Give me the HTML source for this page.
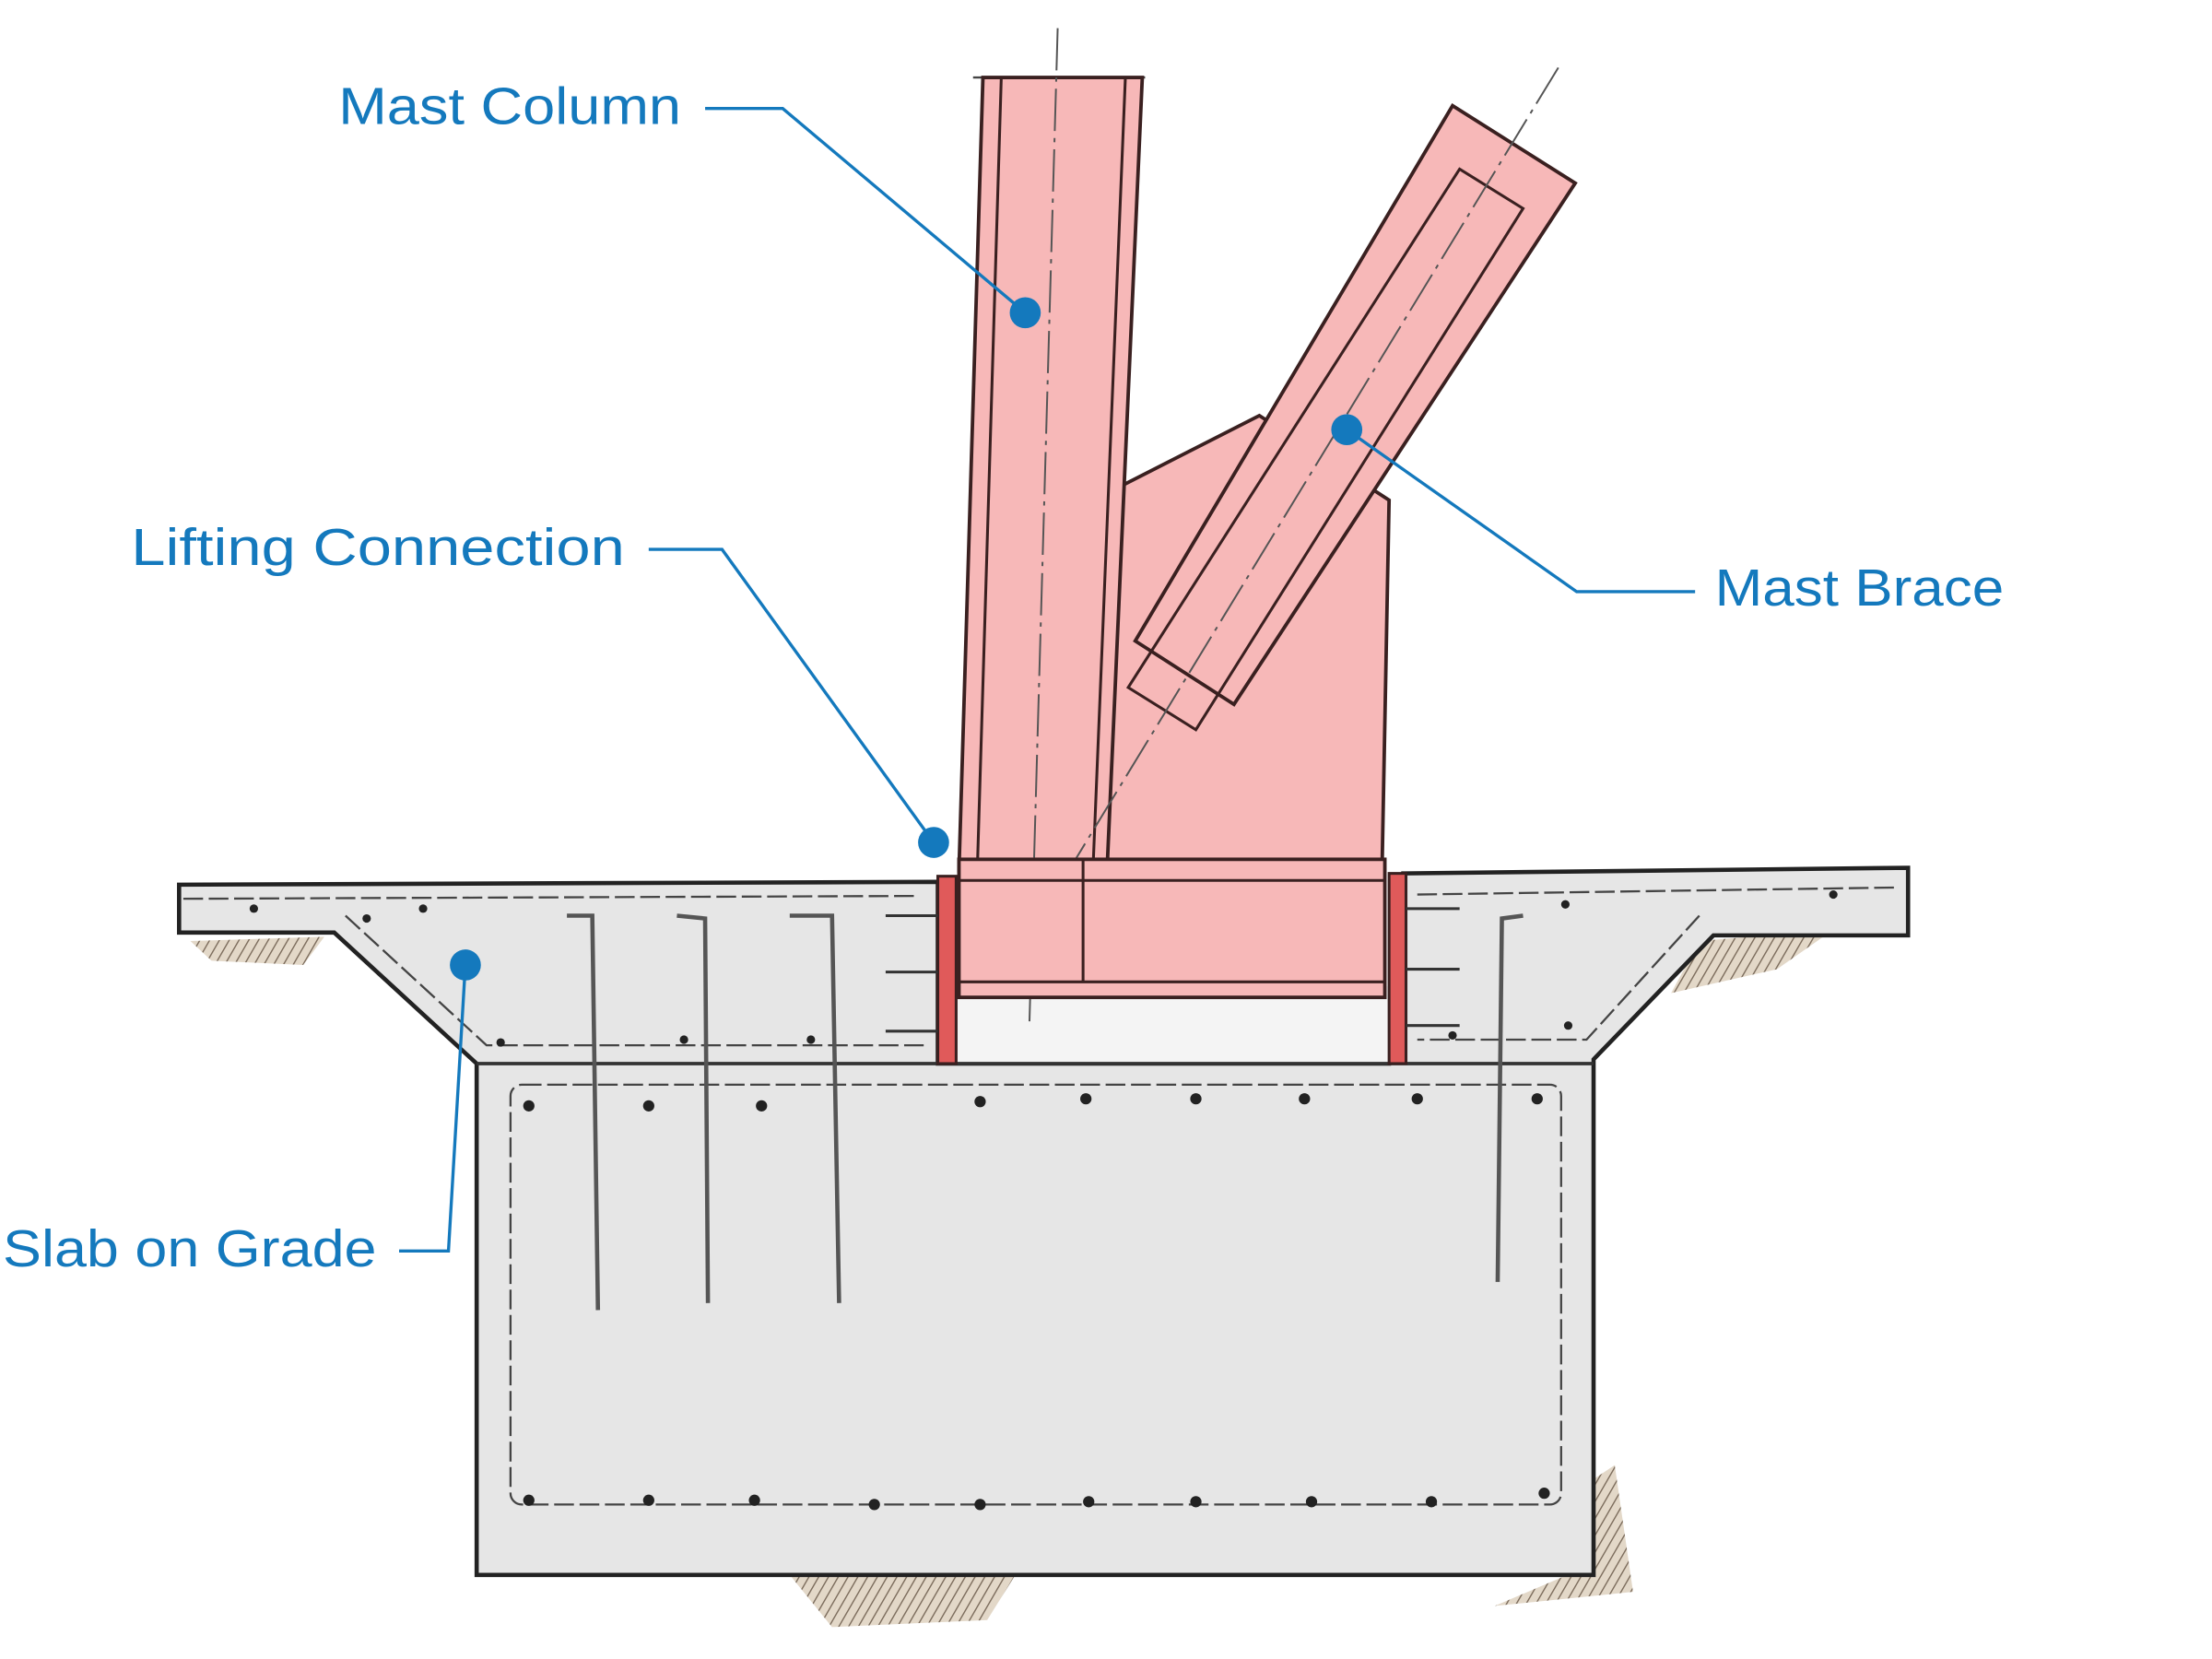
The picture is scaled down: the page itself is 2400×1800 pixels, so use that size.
<!DOCTYPE html>
<html><head><meta charset="utf-8"><style>
html,body{margin:0;padding:0;background:#fff;}
svg{display:block;}
text{font-family:"Liberation Sans",sans-serif;fill:#1479bd;font-size:37px;}
</style></head><body>
<svg width="2400" height="1800" viewBox="0 0 1545 1160" preserveAspectRatio="none" xmlns="http://www.w3.org/2000/svg">
<defs>
<pattern id="h" width="6" height="6" patternUnits="userSpaceOnUse" patternTransform="rotate(30)">
<rect width="6" height="6" fill="#e3d8c8"/><line x1="0" y1="0" x2="0" y2="6" stroke="#7a6a5a" stroke-width="1.8"/>
</pattern>
</defs>
<g transform="scale(0.985)">
<!-- ground hatch -->
<path d="M135,668 L230,665 L215,685 L150,682 Z" fill="url(#h)"/>
<path d="M1205,668 L1300,660 L1260,688 L1185,705 Z" fill="url(#h)"/>
<path d="M1130,1050 L1145,1040 L1158,1130 L1060,1140 L1130,1110 Z" fill="url(#h)"/>
<path d="M560,1118 L720,1118 L700,1150 L590,1155 Z" fill="url(#h)"/>
<!-- slab & beam -->
<path d="M127,628 L665,626 L665,755 L985,755 L995,620 L1353,616 L1353,664 L1215,664 L1130,752 L1130,1118 L338,1118 L338,755 L237,662 L127,662 Z" fill="#e6e6e6" stroke="#222" stroke-width="3"/>
<rect x="678" y="700" width="307" height="55" fill="#f4f4f4"/>
<line x1="338" y1="755" x2="1130" y2="755" stroke="#333" stroke-width="2.5"/>
<!-- rebar -->
<g fill="none" stroke="#444" stroke-width="1.5" stroke-dasharray="14 4">
<rect x="362" y="770" width="745" height="298" rx="8"/>
<path d="M130,638 L650,636 M245,650 L345,742 L655,742"/>
<path d="M1005,635 L1345,630 M1205,650 L1125,738 L1005,738"/>
</g>
<g fill="none" stroke="#555" stroke-width="3">
<path d="M402,650 L420,650 L424,930"/><path d="M480,650 L500,652 L502,925"/>
<path d="M560,650 L590,650 L595,925"/><path d="M1080,650 L1065,652 L1062,910"/>
</g>
<g fill="#222">
<circle cx="375" cy="785" r="4"/><circle cx="460" cy="785" r="4"/><circle cx="540" cy="785" r="4"/><circle cx="695" cy="782" r="4"/><circle cx="770" cy="780" r="4"/><circle cx="848" cy="780" r="4"/><circle cx="925" cy="780" r="4"/><circle cx="1005" cy="780" r="4"/><circle cx="1090" cy="780" r="4"/>
<circle cx="375" cy="1065" r="4"/><circle cx="460" cy="1065" r="4"/><circle cx="535" cy="1065" r="4"/><circle cx="620" cy="1068" r="4"/><circle cx="695" cy="1068" r="4"/><circle cx="772" cy="1066" r="4"/><circle cx="848" cy="1066" r="4"/><circle cx="930" cy="1066" r="4"/><circle cx="1015" cy="1066" r="4"/><circle cx="1095" cy="1060" r="4"/>
<circle cx="180" cy="645" r="3"/><circle cx="260" cy="652" r="3"/><circle cx="300" cy="645" r="3"/><circle cx="355" cy="740" r="3"/><circle cx="485" cy="738" r="3"/><circle cx="575" cy="738" r="3"/><circle cx="1110" cy="642" r="3"/><circle cx="1300" cy="635" r="3"/><circle cx="1030" cy="735" r="3"/><circle cx="1112" cy="728" r="3"/>
</g>
<!-- gusset -->
<path d="M795,345 L893,295 L985,355 L980,618 L780,618 Z" fill="#f7b8b8" stroke="#3a2020" stroke-width="2.5"/>
<!-- column -->
<line x1="690" y1="55" x2="812" y2="55" stroke="#444" stroke-width="1.5"/>
<path d="M697,55 L810,55 L785,618 L680,618 Z" fill="#f7b8b8" stroke="#3a2020" stroke-width="2.5"/>
<path d="M710,55 L693,618 M798,55 L775,618" stroke="#3a2020" stroke-width="2" fill="none"/>
<path d="M750,20 L730,725" stroke="#555" stroke-width="1.3" stroke-dasharray="30 5 3 5" fill="none"/>
<!-- brace -->
<path d="M1030,75 L1117,130 L875,500 L805,455 Z" fill="#f7b8b8" stroke="#3a2020" stroke-width="2.5"/>
<path d="M1035,120 L1080,148 L848,518 L800,488 Z" fill="none" stroke="#3a2020" stroke-width="2"/>
<path d="M1105,48 L720,680" stroke="#555" stroke-width="1.3" stroke-dasharray="30 5 3 5" fill="none"/>
<!-- base plate -->
<rect x="680" y="610" width="302" height="98" fill="#f7b8b8" stroke="#3a2020" stroke-width="2.5"/>
<line x1="680" y1="625" x2="982" y2="625" stroke="#3a2020" stroke-width="2"/>
<line x1="680" y1="697" x2="982" y2="697" stroke="#3a2020" stroke-width="2"/>
<line x1="768" y1="610" x2="768" y2="697" stroke="#3a2020" stroke-width="2"/>
<!-- embed plates -->
<rect x="665" y="622" width="13" height="133" fill="#e05a5a" stroke="#3a2020" stroke-width="2"/>
<rect x="985" y="620" width="12" height="135" fill="#e05a5a" stroke="#3a2020" stroke-width="2"/>
<g stroke="#333" stroke-width="2"><path d="M628,650 L665,650 M628,690 L665,690 M628,732 L665,732 M997,645 L1035,645 M997,688 L1035,688 M997,728 L1035,728"/></g>
<!-- leaders -->
<g fill="none" stroke="#1479bd" stroke-width="2.2">
<path d="M500,77 L555,77 L727,222"/>
<path d="M460,390 L512,390 L662,598"/>
<path d="M955,305 L1118,420 L1202,420"/>
<path d="M283,888 L318,888 L330,685"/>
</g>
<g fill="#1479bd">
<circle cx="727" cy="222" r="11"/><circle cx="662" cy="598" r="11"/><circle cx="955" cy="305" r="11"/><circle cx="330" cy="685" r="11"/>
</g>
<text x="240" y="88" textLength="243" lengthAdjust="spacingAndGlyphs">Mast Column</text>
<text x="93" y="401" textLength="350" lengthAdjust="spacingAndGlyphs">Lifting Connection</text>
<text x="1216" y="430" textLength="205" lengthAdjust="spacingAndGlyphs">Mast Brace</text>
<text x="2" y="899" textLength="265" lengthAdjust="spacingAndGlyphs">Slab on Grade</text>
</g>
</svg>
</body></html>
